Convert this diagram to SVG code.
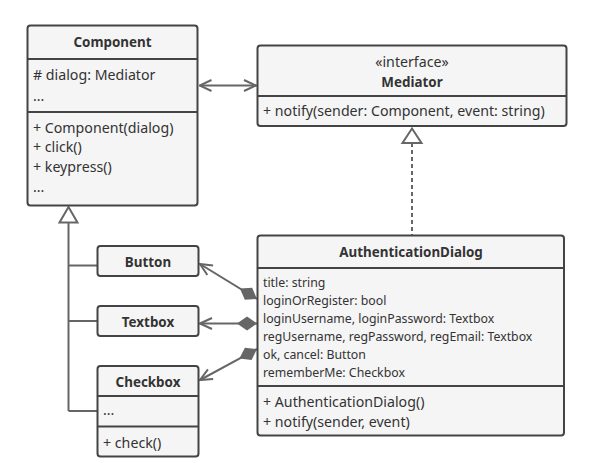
<svg xmlns="http://www.w3.org/2000/svg" width="596" height="463" viewBox="0 0 596 463">
<style>
.box{fill:#f5f5f5;stroke:#444;stroke-width:2}
.div{stroke:#444;stroke-width:2;fill:none}
.t{font-family:"Noto Sans","Open Sans",sans-serif;font-size:14.2px;fill:#333}
.s{font-family:"Noto Sans","Open Sans",sans-serif;font-size:12.3px;fill:#333}
.b{font-family:"Noto Sans","Open Sans",sans-serif;font-size:13.4px;font-weight:bold;fill:#333;text-anchor:middle}
.c{font-family:"Noto Sans","Open Sans",sans-serif;font-size:14.2px;fill:#333;text-anchor:middle}
.ln{stroke:#666;stroke-width:2;fill:none}
</style>
<defs>
<marker id="open" viewBox="0 0 14 14" refX="13" refY="7" markerWidth="14" markerHeight="14" markerUnits="userSpaceOnUse" orient="auto-start-reverse">
<path d="M1,1.5 L13,7 L1,12.5" fill="none" stroke="#666" stroke-width="2"/>
</marker>
<marker id="dia" viewBox="0 0 22 16" refX="1" refY="8" markerWidth="22" markerHeight="16" markerUnits="userSpaceOnUse" orient="auto">
<path d="M1,8 L11,1 L21,8 L11,15 Z" fill="#666"/>
</marker>
</defs>

<g id="connectors">
<path class="ln" d="M199.5,85.5 H256" marker-start="url(#open)" marker-end="url(#open)"/>
<path class="ln" d="M412,143 V235" stroke-dasharray="4 3"/>
<path d="M412,128.5 L421.5,143 L402.5,143 Z" fill="#fff" stroke="#666" stroke-width="2" stroke-linejoin="miter"/>
<path class="ln" d="M68.5,222.5 V411 M68.5,265.5 H97.5 M68.5,321 H97.5 M68.5,411 H97.5"/>
<path d="M68.5,207 L77.5,222.5 L59.5,222.5 Z" fill="#fff" stroke="#666" stroke-width="2"/>
<path class="ln" d="M257,299 L200,264" marker-start="url(#dia)" marker-end="url(#open)"/>
<path class="ln" d="M257,323.5 L200,323.5" marker-start="url(#dia)" marker-end="url(#open)"/>
<path class="ln" d="M257,349 L200,380" marker-start="url(#dia)" marker-end="url(#open)"/>
</g>

<g id="component">
<rect class="box" x="27.5" y="25.5" width="170" height="180" rx="3"/>
<path class="div" d="M27.5,59 H197.5 M27.5,112 H197.5"/>
<text class="b" x="112.5" y="47">Component</text>
<text class="t" x="33" y="80"># dialog: Mediator</text>
<text class="t" x="33" y="101">...</text>
<text class="t" x="33" y="133">+ Component(dialog)</text>
<text class="t" x="33" y="152">+ click()</text>
<text class="t" x="33" y="172">+ keypress()</text>
<text class="t" x="33" y="192">...</text>
</g>

<g id="mediator">
<rect class="box" x="257.5" y="45.5" width="309" height="80.5" rx="3"/>
<path class="div" d="M257.5,96 H566.5"/>
<text class="c" x="412" y="67">«interface»</text>
<text class="b" x="412" y="87">Mediator</text>
<text class="t" x="263" y="116">+ notify(sender: Component, event: string)</text>
</g>

<g id="authDialog">
<rect class="box" x="257.5" y="235.5" width="306.5" height="200" rx="3"/>
<path class="div" d="M257.5,268 H564 M257.5,386 H564"/>
<text class="b" x="411" y="257">AuthenticationDialog</text>
<text class="s" x="263" y="287">title: string</text>
<text class="s" x="263" y="305">loginOrRegister: bool</text>
<text class="s" x="263" y="323">loginUsername, loginPassword: Textbox</text>
<text class="s" x="263" y="341">regUsername, regPassword, regEmail: Textbox</text>
<text class="s" x="263" y="359">ok, cancel: Button</text>
<text class="s" x="263" y="377">rememberMe: Checkbox</text>
<text class="t" x="263" y="407">+ AuthenticationDialog()</text>
<text class="t" x="263" y="427">+ notify(sender, event)</text>
</g>

<g id="button">
<rect class="box" x="97.5" y="246" width="101" height="30" rx="3"/>
<text class="b" x="148" y="267">Button</text>
</g>

<g id="textbox">
<rect class="box" x="97.5" y="306" width="101" height="30" rx="3"/>
<text class="b" x="148" y="327">Textbox</text>
</g>

<g id="checkbox">
<rect class="box" x="97.5" y="366" width="101" height="90.5" rx="3"/>
<path class="div" d="M97.5,396 H198.5 M97.5,426.5 H198.5"/>
<text class="b" x="148" y="387">Checkbox</text>
<text class="t" x="103" y="415">...</text>
<text class="t" x="103" y="448">+ check()</text>
</g>
</svg>
